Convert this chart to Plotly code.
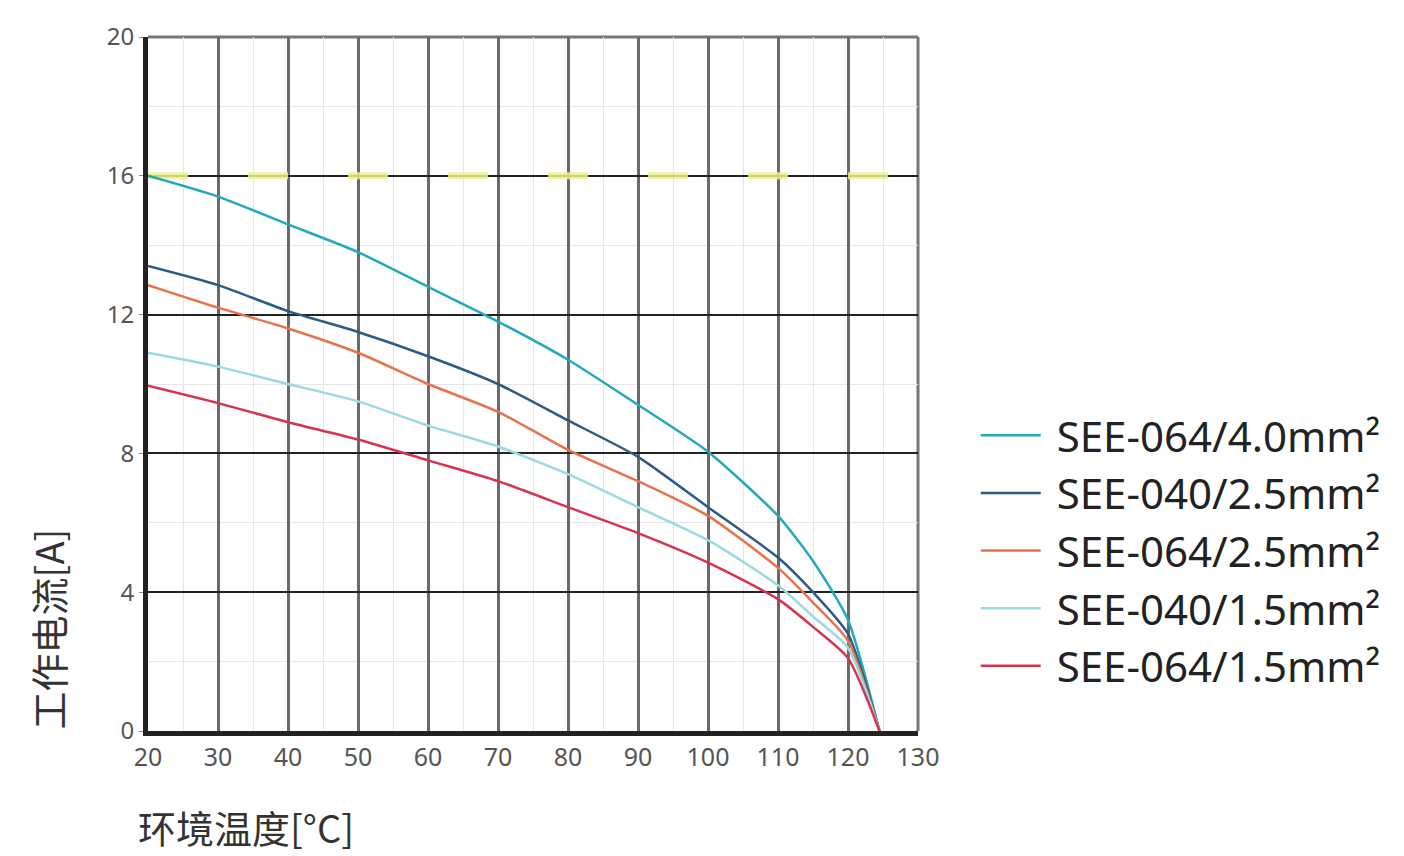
import plotly.graph_objects as go

temps = [20, 30, 40, 50, 60, 70, 80, 90, 100, 110, 115, 120, 124.5]
series_names = ["SEE-064/4.0mm²", "SEE-040/2.5mm²", "SEE-064/2.5mm²", "SEE-040/1.5mm²", "SEE-064/1.5mm²"]
s064_40 = [16.0, 15.4, 14.6, 13.8, 12.8, 11.8, 10.7, 9.4, 8.05, 6.2, 4.9, 3.2, 0]
s040_25 = [13.4, 12.85, 12.1, 11.5, 10.8, 10.0, 8.95, 7.9, 6.45, 5.0, 4.0, 2.8, 0]
s064_25 = [12.85, 12.2, 11.6, 10.9, 10.0, 9.2, 8.1, 7.2, 6.2, 4.7, 3.7, 2.6, 0]
s040_15 = [10.9, 10.5, 10.0, 9.5, 8.8, 8.2, 7.4, 6.45, 5.5, 4.2, 3.3, 2.4, 0]
s064_15 = [9.95, 9.45, 8.9, 8.4, 7.8, 7.2, 6.45, 5.7, 4.85, 3.8, 3.0, 2.1, 0]
series_values = [s064_40, s040_25, s064_25, s040_15, s064_15]
colors = ["#22a9bd", "#2b5b86", "#e8734a", "#9ad8e2", "#d6334f"]

limit_x = [20, 130]
limit_y = [16, 16]

x_ticks = [20, 30, 40, 50, 60, 70, 80, 90, 100, 110, 120, 130]
y_ticks = [0, 4, 8, 12, 16, 20]

fig = go.Figure()
fig.add_trace(go.Scatter(x=limit_x, y=limit_y, mode="lines", showlegend=False,
                         line=dict(color="rgba(235,240,140,0.85)", width=7, dash="40px,60px"),
                         hoverinfo="skip"))
for name, vals, c in zip(series_names, series_values, colors):
    fig.add_trace(go.Scatter(x=temps, y=vals, mode="lines", name=" " + name,
                             line=dict(color=c, width=2.5, shape="spline", smoothing=0.6)))

fig.update_layout(
    width=1404, height=856,
    paper_bgcolor="white", plot_bgcolor="white",
    margin=dict(l=148, r=486, t=37, b=125),
    font=dict(family="Noto Sans, DejaVu Sans", color="#333"),
    legend=dict(x=1.075, y=0.26, xanchor="left", yanchor="middle",
                font=dict(size=42, color="#222", family="Noto Sans"),
                bgcolor="rgba(0,0,0,0)", itemwidth=60),
    shapes=[
        dict(type="line", xref="paper", yref="paper", x0=0, x1=1, y0=1, y1=1,
             line=dict(color="#777", width=3), layer="below"),
        dict(type="line", xref="paper", yref="paper", x0=1, x1=1, y0=0, y1=1,
             line=dict(color="#777", width=3), layer="below"),
    ],
    annotations=[
        dict(text="环境温度[°C]", x=-0.015, y=-0.095, xref="paper", yref="paper",
             xanchor="left", yanchor="top", showarrow=False,
             font=dict(size=38, color="#333", family="Noto Sans CJK SC")),
        dict(text="工作电流[A]", x=-0.13, y=0.0, xref="paper", yref="paper",
             xanchor="center", yanchor="bottom", textangle=-90, showarrow=False,
             font=dict(size=38, color="#333", family="Noto Sans CJK SC")),
    ],
)
fig.update_xaxes(range=[20, 130], tickvals=x_ticks, showgrid=True, gridcolor="#6a6a6a", gridwidth=3,
                 showline=True, linecolor="#222", linewidth=5, ticks="", zeroline=False,
                 tickfont=dict(size=25, color="#555"),
                 minor=dict(dtick=5, tick0=20, showgrid=True, gridcolor="#e6e6e6", gridwidth=1))
fig.update_yaxes(range=[0, 20], tickvals=y_ticks, showgrid=True, gridcolor="#222", gridwidth=2,
                 showline=True, linecolor="#222", linewidth=5, ticks="outside", ticklen=4,
                 tickcolor="#888", zeroline=False,
                 tickfont=dict(size=24, color="#555"),
                 minor=dict(dtick=2, tick0=0, showgrid=True, gridcolor="#e6e6e6", gridwidth=1))

fig.write_html("out.html", config={"displayModeBar": False},
               post_script="document.body.style.margin='0';document.body.style.overflow='hidden';")
